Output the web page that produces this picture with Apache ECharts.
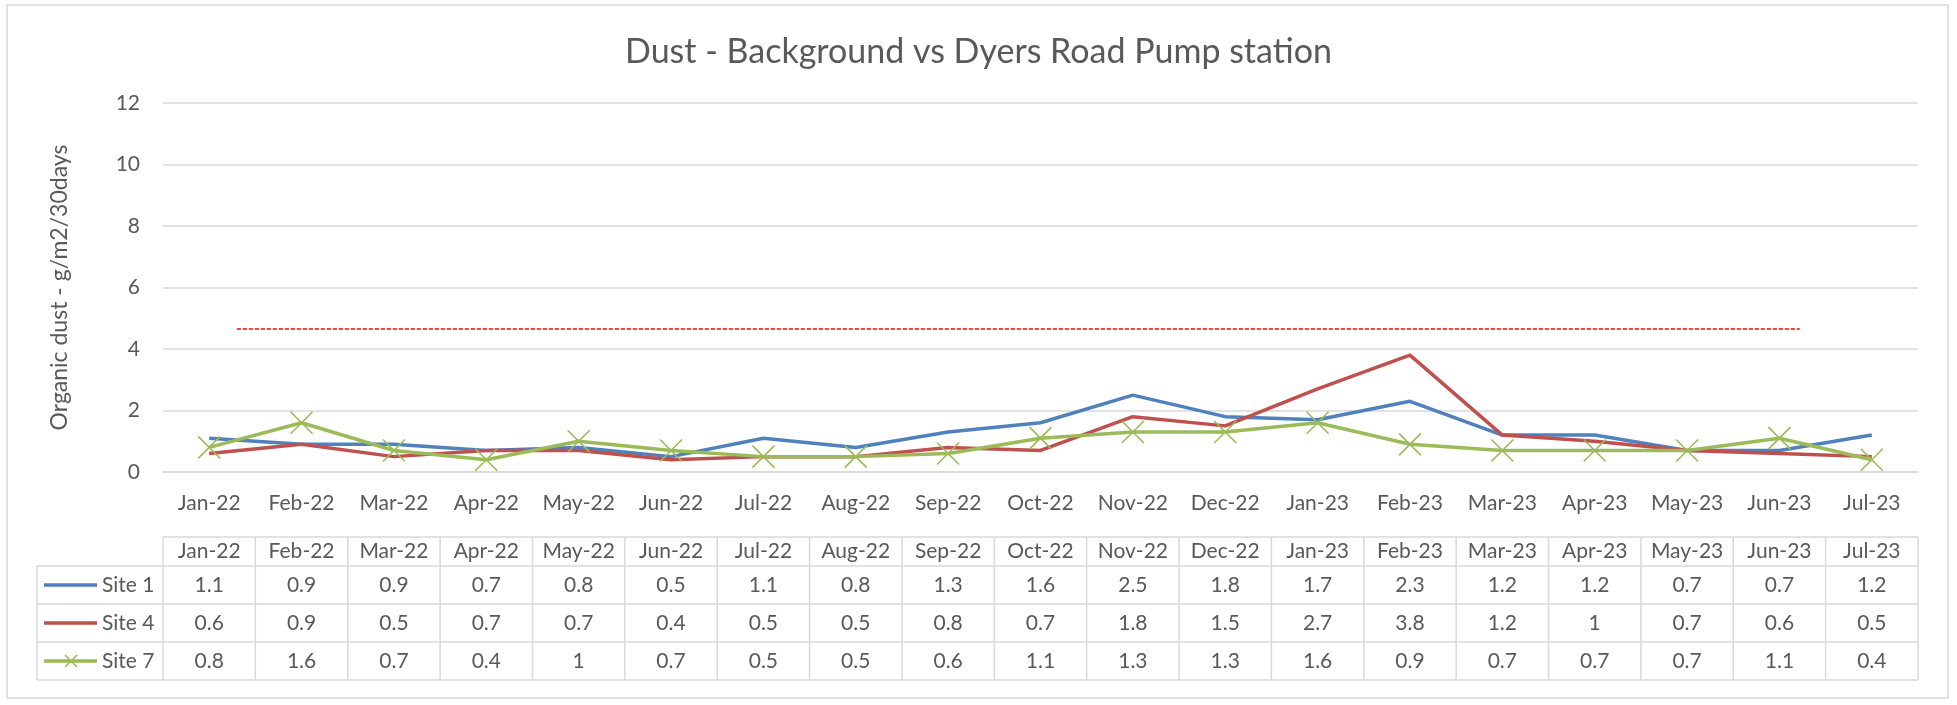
<!DOCTYPE html>
<html>
<head>
<meta charset="utf-8">
<title>Dust - Background vs Dyers Road Pump station</title>
<script src="https://cdn.jsdelivr.net/npm/echarts@6/dist/echarts.min.js"></script>
<style>
    html, body { margin: 0; padding: 0; background: #fff; }
    #chart { width: 1957px; height: 705px; }
</style>
</head>
<body>
<div id="chart"></div>
<script>
// data
const months = ["Jan-22", "Feb-22", "Mar-22", "Apr-22", "May-22", "Jun-22", "Jul-22", "Aug-22", "Sep-22", "Oct-22",
    "Nov-22", "Dec-22", "Jan-23", "Feb-23", "Mar-23", "Apr-23", "May-23", "Jun-23", "Jul-23"];
const site1 = [1.1, 0.9, 0.9, 0.7, 0.8, 0.5, 1.1, 0.8, 1.3, 1.6, 2.5, 1.8, 1.7, 2.3, 1.2, 1.2, 0.7, 0.7, 1.2];
const site4 = [0.6, 0.9, 0.5, 0.7, 0.7, 0.4, 0.5, 0.5, 0.8, 0.7, 1.8, 1.5, 2.7, 3.8, 1.2, 1, 0.7, 0.6, 0.5];
const site7 = [0.8, 1.6, 0.7, 0.4, 1, 0.7, 0.5, 0.5, 0.6, 1.1, 1.3, 1.3, 1.6, 0.9, 0.7, 0.7, 0.7, 1.1, 0.4];
const yMin = 0, yMax = 12, yStep = 2;
// red dashed reference line (drawn shape, runs between category positions)
const limitValue = 4.65;
const limitFrom = 0.3;
const limitTo = 17.22;

const seriesList = [
    {name: "Site 1", data: site1, color: "#4F81BD", marker: false},
    {name: "Site 4", data: site4, color: "#C0504D", marker: false},
    {name: "Site 7", data: site7, color: "#9BBB59", marker: true}
];

const FONT = "Lato";
const TXT = "#595959";
const BORDER = "#d9d9d9";
const crossPath = "path://M0,0L10,10M10,0L0,10";

const chart = echarts.init(document.getElementById("chart"));

const option = {
    backgroundColor: "#fff",
    animation: false,
    title: {
        text: "Dust - Background vs Dyers Road Pump station",
        left: "center",
        top: 30,
        textStyle: {fontFamily: FONT, fontSize: 34, fontWeight: "normal", color: TXT}
    },
    grid: {left: 163, right: 39, top: 103, bottom: 233},
    xAxis: [
        {
            type: "category",
            data: months,
            boundaryGap: true,
            axisLine: {show: true, lineStyle: {color: BORDER, width: 1.5}},
            axisTick: {show: false},
            axisLabel: {fontFamily: FONT, fontSize: 21, color: TXT, margin: 21, interval: 0}
        },
        {
            // helper axis so the dashed shape can sit between categories
            type: "value",
            min: -0.5,
            max: months.length - 0.5,
            show: false
        }
    ],
    yAxis: {
        type: "value",
        min: yMin,
        max: yMax,
        interval: yStep,
        name: "Organic dust - g/m2/30days",
        nameLocation: "middle",
        nameGap: 92,
        nameTextStyle: {fontFamily: FONT, fontSize: 23, color: TXT},
        axisLine: {show: false},
        axisTick: {show: false},
        axisLabel: {fontFamily: FONT, fontSize: 21, color: TXT, margin: 23},
        splitLine: {lineStyle: {color: BORDER, width: 1.5}}
    },
    series: seriesList.map(s => ({
        name: s.name,
        type: "line",
        data: s.data,
        color: s.color,
        lineStyle: {width: 3.5, color: s.color},
        symbol: s.marker ? crossPath : "none",
        showSymbol: s.marker,
        symbolSize: 22,
        itemStyle: {color: s.color, borderColor: s.color, borderWidth: 1.6},
        silent: true
    })).concat([{
        name: "limit",
        type: "line",
        xAxisIndex: 1,
        data: [[limitFrom, limitValue], [limitTo, limitValue]],
        symbol: "none",
        lineStyle: {color: "#FF0000", width: 1.5, type: [4, 2]},
        silent: true,
        z: 1
    }])
};
chart.setOption(option);

// data table under the chart, built from the same arrays
const buildTable = () => {
    const c0 = chart.convertToPixel({xAxisIndex: 0}, 0);
    const c1 = chart.convertToPixel({xAxisIndex: 0}, 1);
    const band = c1 - c0;
    const left = c0 - band / 2;
    const right = left + band * months.length;
    const headTop = 537, rowH = 38;
    const rowTops = [566, 566 + rowH, 566 + rowH * 2];
    const bottom = 566 + rowH * 3;
    const labelLeft = 37;
    const lineStyle = {stroke: BORDER, lineWidth: 1.5};
    const els = [];

    els.push({type: "rect", shape: {x: 7, y: 5, width: 1941, height: 693}, style: {fill: "none", stroke: BORDER, lineWidth: 1.5}, z: -10});

    // horizontal rules
    els.push({type: "line", shape: {x1: left, y1: headTop, x2: right, y2: headTop}, style: lineStyle});
    rowTops.concat([bottom]).forEach(y => {
        els.push({type: "line", shape: {x1: labelLeft, y1: y, x2: right, y2: y}, style: lineStyle});
    });
    // vertical rules
    for (let i = 0; i <= months.length; i++) {
        const x = left + band * i;
        els.push({type: "line", shape: {x1: x, y1: headTop, x2: x, y2: bottom}, style: lineStyle});
    }
    els.push({type: "line", shape: {x1: labelLeft, y1: rowTops[0], x2: labelLeft, y2: bottom}, style: lineStyle});

    const textStyle = {fontFamily: FONT, fontSize: 21, fill: TXT, align: "center", verticalAlign: "middle"};
    months.forEach((m, i) => {
        els.push({type: "text", x: left + band * (i + 0.5), y: (headTop + rowTops[0]) / 2, style: Object.assign({text: m}, textStyle)});
    });
    seriesList.forEach((s, r) => {
        const cy = rowTops[r] + rowH / 2;
        // legend key
        els.push({type: "line", shape: {x1: 44, y1: cy, x2: 97, y2: cy}, style: {stroke: s.color, lineWidth: 3.5}});
        if (s.marker) {
            els.push({type: "line", shape: {x1: 65, y1: cy - 6, x2: 77, y2: cy + 6}, style: {stroke: s.color, lineWidth: 1.6}});
            els.push({type: "line", shape: {x1: 77, y1: cy - 6, x2: 65, y2: cy + 6}, style: {stroke: s.color, lineWidth: 1.6}});
        }
        els.push({type: "text", x: 102, y: cy, style: {text: s.name, fontFamily: FONT, fontSize: 21, fill: TXT, align: "left", verticalAlign: "middle"}});
        s.data.forEach((v, i) => {
            els.push({type: "text", x: left + band * (i + 0.5), y: cy, style: Object.assign({text: String(v)}, textStyle)});
        });
    });
    chart.setOption({graphic: {elements: els}});
};
buildTable();
</script>
</body>
</html>
